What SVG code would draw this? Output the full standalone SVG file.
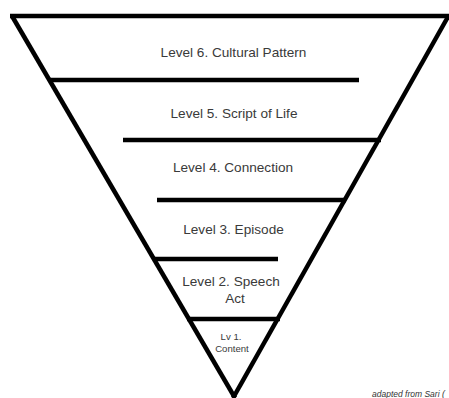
<svg xmlns="http://www.w3.org/2000/svg" width="449" height="398" viewBox="0 0 449 398">
  <style>
    .edge { stroke: #000; stroke-width: 4.5; stroke-linecap: butt; fill: none; }
    .lbl { font-family: "Liberation Sans", Arial, sans-serif; font-size: 13.6px; fill: #3a3a3a; text-anchor: middle; }
    .small { font-family: "Liberation Sans", Arial, sans-serif; font-size: 9.6px; fill: #3a3a3a; text-anchor: middle; }
    .credit { font-family: "Liberation Sans", Arial, sans-serif; font-size: 8.5px; font-style: italic; fill: #333; }
  </style>
  <rect width="449" height="398" fill="#fff"/>

  <!-- inverted triangle outline and level dividers -->
  <g id="connectors">
    <line class="edge" x1="10" y1="16" x2="449" y2="16"/>
    <line class="edge" x1="12" y1="16" x2="235" y2="398"/>
    <line class="edge" x1="449" y1="15" x2="233" y2="398"/>
    <line class="edge" x1="50" y1="80" x2="359" y2="80"/>
    <line class="edge" x1="123" y1="140" x2="381" y2="140"/>
    <line class="edge" x1="157" y1="200" x2="346" y2="200"/>
    <line class="edge" x1="153" y1="259" x2="278" y2="259"/>
    <line class="edge" x1="187" y1="319" x2="280" y2="319"/>
  </g>

  <g id="level6"><text class="lbl" x="233.5" y="57">Level 6. Cultural Pattern</text></g>
  <g id="level5"><text class="lbl" x="234" y="118">Level 5. Script of Life</text></g>
  <g id="level4"><text class="lbl" x="233" y="172">Level 4. Connection</text></g>
  <g id="level3"><text class="lbl" x="233.5" y="234">Level 3. Episode</text></g>
  <g id="level2">
    <text class="lbl" x="231" y="286">Level 2. Speech</text>
    <text class="lbl" x="235" y="303">Act</text>
  </g>
  <g id="level1">
    <text class="small" x="231" y="340">Lv 1.</text>
    <text class="small" x="232" y="352">Content</text>
  </g>

  <text class="credit" x="372" y="397">adapted from Sari (</text>
</svg>
